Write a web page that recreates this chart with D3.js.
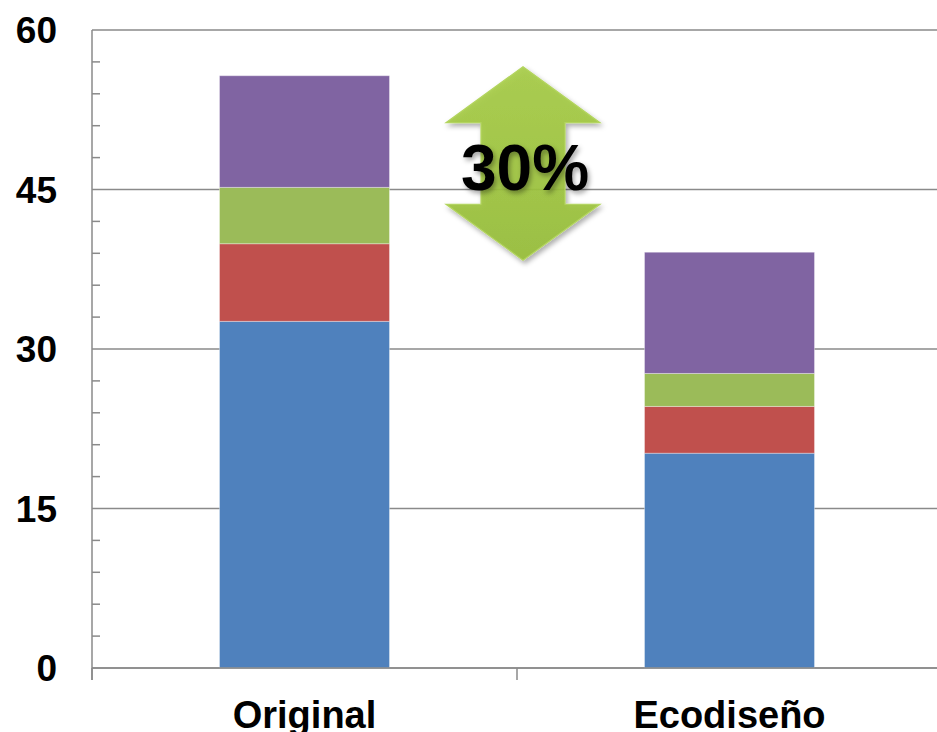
<!DOCTYPE html>
<html>
<head>
<meta charset="utf-8">
<script src="https://cdn.jsdelivr.net/npm/d3@7"></script>
<style>
	body { margin: 0; background: #fff; }
	svg { display: block; font-family: "Liberation Sans", Arial, sans-serif; }
	.grid line, .minor line, .cat-ticks line, .axis-line { stroke: #8a8a8a; stroke-width: 1.5; }
	.bar rect { stroke: rgba(255,255,255,0.35); stroke-width: 1; }
</style>
</head>
<body>
<svg id="chart" width="937" height="732"></svg>
<script>
"use strict";

// chart data
var categories = ['Original', 'Ecodiseño'];
var seriesNames = ['s1', 's2', 's3', 's4'];
var seriesColors = ['#4f81bd', '#c0504d', '#9bbb59', '#8064a2'];
var s1 = [32.6, 20.2];
var s2 = [7.3, 4.4];
var s3 = [5.3, 3.1];
var s4 = [10.5, 11.4];
var yTicks = [0, 15, 30, 45, 60];

var svg = d3.select('#chart');
var W = 937, H = 732;
var margin = { top: 30, left: 92, bottom: 64 };
var plotRight = 942;

var rows = categories.map(function(c, i) {
	return { cat: c, s1: s1[i], s2: s2[i], s3: s3[i], s4: s4[i] };
});
var stack = d3.stack().keys(seriesNames)(rows);

var x = d3.scaleBand()
	.domain(categories)
	.range([margin.left, plotRight])
	.paddingInner(0.6)
	.paddingOuter(0.3);
var y = d3.scaleLinear()
	.domain([0, 60])
	.range([H - margin.bottom, margin.top]);

// gridlines at major ticks
svg.append('g').attr('class', 'grid')
	.selectAll('line').data(yTicks).enter().append('line')
	.attr('x1', margin.left).attr('x2', W)
	.attr('y1', function(d) { return y(d); })
	.attr('y2', function(d) { return y(d); });

// minor ticks every 3 units
var minor = d3.range(0, 61, 3).filter(function(d) { return d % 15 !== 0; });
svg.append('g').attr('class', 'minor')
	.selectAll('line').data(minor).enter().append('line')
	.attr('x1', margin.left).attr('x2', margin.left + 8)
	.attr('y1', function(d) { return y(d); })
	.attr('y2', function(d) { return y(d); });

// y tick labels
svg.append('g')
	.selectAll('text').data(yTicks).enter().append('text')
	.attr('x', 57)
	.attr('y', function(d) { return y(d); })
	.attr('dy', '0.36em')
	.attr('text-anchor', 'end')
	.style('font-size', '37px')
	.style('font-weight', 'bold')
	.attr('fill', '#000')
	.text(function(d) { return d; });

// stacked bars
svg.append('g')
	.selectAll('g').data(stack).enter().append('g')
	.attr('class', 'bar')
	.attr('fill', function(d, i) { return seriesColors[i]; })
	.selectAll('rect').data(function(d) { return d; }).enter().append('rect')
	.attr('x', function(d) { return x(d.data.cat); })
	.attr('width', x.bandwidth())
	.attr('y', function(d) { return y(d[1]); })
	.attr('height', function(d) { return y(d[0]) - y(d[1]); });

// axis lines
var gap = (x.step() - x.bandwidth()) / 2;
svg.append('line').attr('class', 'axis-line')
	.attr('x1', margin.left).attr('x2', margin.left)
	.attr('y1', y(60)).attr('y2', y(0) + 12);
svg.append('line').attr('class', 'axis-line')
	.attr('x1', margin.left).attr('x2', W)
	.attr('y1', y(0)).attr('y2', y(0));
var bounds = categories.map(function(c) { return x(c) - gap; });
bounds.push(x(categories[categories.length - 1]) + x.bandwidth() + gap);
svg.append('g').attr('class', 'cat-ticks')
	.selectAll('line').data(bounds).enter().append('line')
	.attr('x1', function(d) { return d; }).attr('x2', function(d) { return d; })
	.attr('y1', y(0)).attr('y2', y(0) + 12);

// category labels
svg.append('g')
	.selectAll('text').data(categories).enter().append('text')
	.attr('x', function(d) { return x(d) + x.bandwidth() / 2; })
	.attr('y', y(0) + 60)
	.attr('text-anchor', 'middle')
	.style('font-size', '38px')
	.style('font-weight', 'bold')
	.attr('fill', '#000')
	.text(function(d) { return d; });

// reduction annotation: double arrow between the two totals
var totals = rows.map(function(r) { return r.s1 + r.s2 + r.s3 + r.s4; });
var pct = Math.round((totals[0] - totals[1]) / totals[0] * 100);

var defs = svg.append('defs');
var grad = defs.append('linearGradient').attr('id', 'arrowGrad')
	.attr('x1', 0).attr('y1', 0).attr('x2', 0).attr('y2', 1);
grad.append('stop').attr('offset', '0%').attr('stop-color', '#a6cc45');
grad.append('stop').attr('offset', '100%').attr('stop-color', '#97be38');
var shadow = defs.append('filter').attr('id', 'shadow')
	.attr('x', '-20%').attr('y', '-20%').attr('width', '140%').attr('height', '140%');
shadow.append('feDropShadow').attr('dx', 2).attr('dy', 3)
	.attr('stdDeviation', 2.5).attr('flood-color', '#000').attr('flood-opacity', 0.35);

var ax = bounds[1] + 6;
var arrowTop = y(totals[0]) - 9;
var arrowBot = y(totals[1]) + 8;
var headW = 77, shaftW = 42, headL = 56;
var arrowPts = [
	[ax, arrowTop], [ax + headW, arrowTop + headL], [ax + shaftW, arrowTop + headL],
	[ax + shaftW, arrowBot - headL], [ax + headW, arrowBot - headL], [ax, arrowBot],
	[ax - headW, arrowBot - headL], [ax - shaftW, arrowBot - headL], [ax - shaftW, arrowTop + headL],
	[ax - headW, arrowTop + headL]
];
svg.append('path')
	.attr('d', d3.line()(arrowPts) + 'Z')
	.attr('fill', 'url(#arrowGrad)')
	.attr('fill-opacity', 0.9)
	.attr('stroke', '#b3d55e')
	.attr('stroke-width', 1.2)
	.attr('stroke-linejoin', 'miter')
	.attr('filter', 'url(#shadow)');

svg.append('text')
	.attr('x', ax + 2)
	.attr('y', arrowTop + 123)
	.attr('text-anchor', 'middle')
	.style('font-size', '64px')
	.style('font-weight', 'bold')
	.attr('fill', '#000')
	.attr('filter', 'url(#shadow)')
	.text(pct + '%');
</script>
</body>
</html>
